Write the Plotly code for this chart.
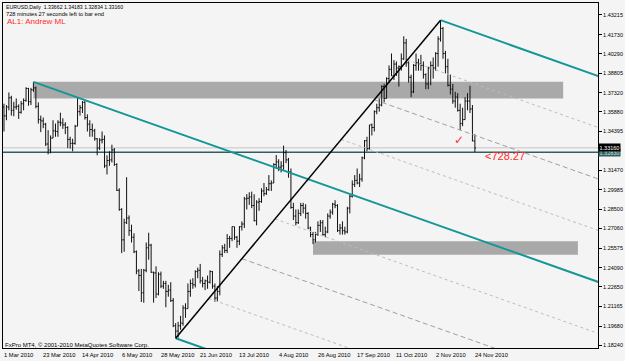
import plotly.graph_objects as go
import pandas as pd

# ---------------- data ----------------
dates = pd.bdate_range("2010-03-01", "2010-11-24")

opens = [1.3625,1.3558,1.3625,1.3695,1.3600,1.3625,1.3630,1.3585,1.3650,1.3675,
         1.3765,1.3665,1.3755,1.3770,1.3630,1.3530,1.3520,1.3495,1.3345,1.3300,
         1.3390,1.3445,1.3440,1.3510,1.3505,1.3490,1.3470,1.3380,1.3350,1.3350,
         1.3480,1.3590,1.3620,1.3660,1.3545,1.3495,1.3455,1.3445,1.3385,1.3315,
         1.3375,1.3380,1.3180,1.3220,1.3225,1.3300,1.3190,1.2995,1.2850,1.2620,
         1.2750,1.2785,1.2690,1.2640,1.2530,1.2385,1.2350,1.2220,1.2390,1.2560,
         1.2580,1.2375,1.2370,1.2210,1.2360,1.2270,1.2290,1.2230,1.2240,1.2160,
         1.1970,1.1930,1.1970,1.1990,1.2105,1.2100,1.2230,1.2290,1.2280,1.2380,
         1.2390,1.2310,1.2290,1.2310,1.2300,1.2380,1.2270,1.2180,1.2230,1.2510,
         1.2560,1.2540,1.2630,1.2630,1.2720,1.2640,1.2610,1.2720,1.2740,1.2930,
         1.2935,1.2945,1.2880,1.2765,1.2905,1.2910,1.2990,1.2970,1.3000,1.3045,
         1.3050,1.3190,1.3210,1.3170,1.3180,1.3280,1.3225,1.3135,1.2865,1.2800,
         1.2750,1.2820,1.2880,1.2860,1.2820,1.2710,1.2660,1.2620,1.2660,1.2730,
         1.2750,1.2660,1.2680,1.2800,1.2830,1.2890,1.2880,1.2690,1.2710,1.2690,
         1.2680,1.2860,1.2950,1.3040,1.3070,1.3050,1.3080,1.3240,1.3370,1.3310,
         1.3490,1.3470,1.3590,1.3620,1.3640,1.3780,1.3690,1.3840,1.3910,1.3860,
         1.3950,1.3920,1.3930,1.3990,1.4110,1.3960,1.3850,1.3740,1.3940,1.3960,
         1.3950,1.3940,1.3870,1.3800,1.3920,1.3940,1.3920,1.4030,1.4140,1.4220,
         1.4030,1.3930,1.3790,1.3760,1.3670,1.3700,1.3600,1.3500,1.3530,1.3670,
         1.3670,1.3610,1.33662]
highs = [1.3650,1.3640,1.3735,1.3710,1.3665,1.3690,1.3645,1.3670,1.3690,1.3775,
         1.3770,1.3770,1.3815,1.3780,1.3660,1.3560,1.3545,1.3505,1.3450,1.3410,
         1.3525,1.3500,1.3525,1.3582,1.3540,1.3510,1.3480,1.3400,1.3385,1.3490,
         1.3692,1.3640,1.3670,1.3670,1.3570,1.3525,1.3500,1.3460,1.3390,1.3390,
         1.3440,1.3410,1.3260,1.3290,1.3340,1.3315,1.3200,1.3010,1.2860,1.2780,
         1.3094,1.2805,1.2735,1.2670,1.2540,1.2400,1.2400,1.2400,1.2600,1.2674,
         1.2590,1.2380,1.2420,1.2375,1.2380,1.2310,1.2310,1.2280,1.2300,1.2180,
         1.1990,1.2000,1.2045,1.2125,1.2140,1.2290,1.2320,1.2330,1.2390,1.2410,
         1.2438,1.2340,1.2320,1.2350,1.2390,1.2385,1.2290,1.2270,1.2540,1.2580,
         1.2590,1.2664,1.2650,1.2721,1.2720,1.2650,1.2725,1.2760,1.2945,1.2966,
         1.2980,1.2985,1.2965,1.2920,1.2935,1.3010,1.3050,1.3020,1.3110,1.3070,
         1.3200,1.3262,1.3230,1.3215,1.3333,1.3300,1.3240,1.3160,1.2900,1.2850,
         1.2850,1.2900,1.2900,1.2890,1.2830,1.2720,1.2680,1.2680,1.2760,1.2770,
         1.2770,1.2720,1.2820,1.2850,1.2900,1.2920,1.2890,1.2740,1.2760,1.2720,
         1.2870,1.2960,1.3070,1.3110,1.3160,1.3120,1.3250,1.3375,1.3400,1.3490,
         1.3500,1.3600,1.3650,1.3690,1.3790,1.3800,1.3850,1.3940,1.4030,1.3980,
         1.3970,1.3940,1.4030,1.4160,1.4140,1.3970,1.3870,1.3950,1.4030,1.3990,
         1.4020,1.3970,1.3880,1.3930,1.3970,1.4000,1.4040,1.4160,1.4282,1.4230,
         1.4050,1.3990,1.3870,1.3800,1.3740,1.3730,1.3650,1.3620,1.3700,1.3730,
         1.3786,1.3640,1.34183]
lows = [1.3440,1.3525,1.3600,1.3560,1.3555,1.3605,1.3535,1.3575,1.3600,1.3665,
        1.3635,1.3640,1.3740,1.3615,1.3500,1.3435,1.3465,1.3330,1.3267,1.3275,
        1.3390,1.3400,1.3400,1.3480,1.3460,1.3420,1.3314,1.3310,1.3290,1.3340,
        1.3480,1.3560,1.3580,1.3530,1.3440,1.3400,1.3400,1.3370,1.3260,1.3300,
        1.3350,1.3165,1.3115,1.3180,1.3205,1.3180,1.2990,1.2840,1.2520,1.2530,
        1.2740,1.2650,1.2600,1.2520,1.2360,1.2233,1.2150,1.2144,1.2375,1.2470,
        1.2370,1.2145,1.2180,1.2200,1.2255,1.2250,1.2110,1.2190,1.2150,1.1960,
        1.1876,1.1880,1.1940,1.1970,1.2030,1.2100,1.2190,1.2250,1.2260,1.2330,
        1.2290,1.2260,1.2240,1.2250,1.2290,1.2250,1.2152,1.2155,1.2200,1.2490,
        1.2520,1.2520,1.2560,1.2610,1.2620,1.2560,1.2580,1.2690,1.2710,1.2850,
        1.2885,1.2860,1.2760,1.2730,1.2840,1.2900,1.2950,1.2960,1.2990,1.2990,
        1.3050,1.3160,1.3140,1.3130,1.3150,1.3200,1.3090,1.2855,1.2770,1.2730,
        1.2740,1.2800,1.2820,1.2780,1.2700,1.2640,1.2588,1.2600,1.2650,1.2680,
        1.2650,1.2640,1.2670,1.2780,1.2810,1.2860,1.2680,1.2660,1.2660,1.2660,
        1.2670,1.2820,1.2940,1.3020,1.3040,1.3020,1.3060,1.3230,1.3290,1.3300,
        1.3410,1.3440,1.3570,1.3590,1.3630,1.3660,1.3690,1.3810,1.3860,1.3830,
        1.3860,1.3780,1.3900,1.3980,1.3930,1.3810,1.3700,1.3730,1.3900,1.3900,
        1.3900,1.3840,1.3760,1.3760,1.3790,1.3840,1.3900,1.3930,1.4120,1.3990,
        1.3880,1.3780,1.3720,1.3650,1.3620,1.3590,1.3450,1.3480,1.3530,1.3600,
        1.3580,1.3365,1.32834]
closes = [1.3558,1.3625,1.3695,1.3600,1.3625,1.3630,1.3585,1.3650,1.3675,1.3765,
          1.3665,1.3755,1.3770,1.3630,1.3530,1.3520,1.3495,1.3345,1.3300,1.3390,
          1.3445,1.3440,1.3510,1.3505,1.3490,1.3470,1.3380,1.3350,1.3350,1.3480,
          1.3590,1.3620,1.3660,1.3545,1.3495,1.3455,1.3445,1.3385,1.3315,1.3375,
          1.3380,1.3180,1.3220,1.3225,1.3300,1.3190,1.2995,1.2850,1.2620,1.2750,
          1.2785,1.2690,1.2640,1.2530,1.2385,1.2350,1.2220,1.2390,1.2560,1.2580,
          1.2375,1.2370,1.2210,1.2360,1.2270,1.2290,1.2230,1.2240,1.2160,1.1970,
          1.1930,1.1970,1.1990,1.2105,1.2100,1.2230,1.2290,1.2280,1.2380,1.2390,
          1.2310,1.2290,1.2310,1.2300,1.2380,1.2270,1.2180,1.2230,1.2510,1.2560,
          1.2540,1.2630,1.2630,1.2720,1.2640,1.2610,1.2720,1.2740,1.2930,1.2935,
          1.2945,1.2880,1.2765,1.2905,1.2910,1.2990,1.2970,1.3000,1.3045,1.3050,
          1.3190,1.3210,1.3170,1.3180,1.3280,1.3225,1.3135,1.2865,1.2800,1.2750,
          1.2820,1.2880,1.2860,1.2820,1.2710,1.2660,1.2620,1.2660,1.2730,1.2750,
          1.2660,1.2680,1.2800,1.2830,1.2890,1.2880,1.2690,1.2710,1.2690,1.2680,
          1.2860,1.2950,1.3040,1.3070,1.3050,1.3080,1.3240,1.3370,1.3310,1.3490,
          1.3470,1.3590,1.3620,1.3640,1.3780,1.3690,1.3840,1.3910,1.3860,1.3950,
          1.3920,1.3930,1.3990,1.4110,1.3960,1.3850,1.3740,1.3940,1.3960,1.3950,
          1.3940,1.3870,1.3800,1.3920,1.3940,1.3920,1.4030,1.4140,1.4220,1.4030,
          1.3930,1.3790,1.3760,1.3670,1.3700,1.3600,1.3500,1.3530,1.3670,1.3670,
          1.3610,1.3370,1.33160]

x_tick_idx = [0, 16, 32, 48, 64, 80, 96, 112, 128, 144, 160, 176, 192]
x_tick_labels = ["1 Mar 2010", "23 Mar 2010", "14 Apr 2010", "6 May 2010", "28 May 2010",
                 "21 Jun 2010", "13 Jul 2010", "4 Aug 2010", "26 Aug 2010", "17 Sep 2010",
                 "11 Oct 2010", "2 Nov 2010", "24 Nov 2010"]
y_tick_vals = [1.43215, 1.41730, 1.40290, 1.38805, 1.37320, 1.35880, 1.34395,
               1.31470, 1.29985, 1.28500, 1.27060, 1.25575, 1.24090, 1.22650,
               1.21165, 1.19680, 1.18240]
y_tick_text = ["%.5f" % v for v in y_tick_vals]

# pitchfork pivots (bar index): A = March high, B = June low, C = November high
pivot_idx = [12, 70, 178]
pivot_price = [highs[12], lows[70], highs[178]]
level_fracs = [0.25, 0.5, 0.75, -0.25, -0.5, -0.75]

# rectangles (support / resistance zones)
rect_x0 = [12, 126]
rect_x1 = [228, 234]
rect_lo = [1.3690, 1.2508]
rect_hi = [1.3816, 1.2609]

h_line_price = 1.3283
bid_price = closes[-1]

header1 = "EURUSD,Daily\u00a0\u00a01.33662 1.34183 1.32834 1.33160"
header2 = "728 minutes 27 seconds left to bar end"
header3 = "AL1: Andrew ML"
timer_text = "<728.27"
copyright_text = "FxPro MT4, \u00a9 2001-2010 MetaQuotes Software Corp."

# ---------------- figure ----------------
idx = list(range(len(closes)))
X_MIN, X_MAX = -0.4, 242.2
Y_MIN, Y_MAX = 1.18019, 1.44120
X_END = 260

FONT = "Liberation Sans"
TEAL = "#159696"

fig = go.Figure()

fig.add_trace(go.Ohlc(
    x=idx, open=opens, high=highs, low=lows, close=closes,
    increasing=dict(line=dict(color="#101010", width=1)),
    decreasing=dict(line=dict(color="#101010", width=1)),
    tickwidth=0.45, hoverinfo="skip", showlegend=False))

ax, bx, cx = pivot_idx
ay, by, cy = pivot_price
mx, my = (bx + cx) / 2.0, (by + cy) / 2.0
slope = (my - ay) / (mx - ax)

def ray(x0, y0):
    return [x0, X_END], [y0, y0 + slope * (X_END - x0)]

# level lines between tines
for f in level_fracs:
    sx = mx + f * (cx - mx)
    sy = my + f * (cy - my)
    xs, ys = ray(sx, sy)
    if abs(f) == 0.5:
        ln = dict(color="#a0a0a0", width=1, dash="5px,3px")
    else:
        ln = dict(color="#bdbdbd", width=1, dash="3px,3px")
    fig.add_trace(go.Scatter(x=xs, y=ys, mode="lines", line=ln,
                             hoverinfo="skip", showlegend=False))

# median line and tines
for (x0, y0) in [(ax, ay), (bx, by), (cx, cy)]:
    xs, ys = ray(x0, y0)
    fig.add_trace(go.Scatter(x=xs, y=ys, mode="lines",
                             line=dict(color=TEAL, width=2),
                             hoverinfo="skip", showlegend=False))

# handle B -> C
fig.add_trace(go.Scatter(x=[bx, cx], y=[by, cy], mode="lines",
                         line=dict(color="#000000", width=1.5),
                         hoverinfo="skip", showlegend=False))

shapes = []
for x0, x1, lo, hi in zip(rect_x0, rect_x1, rect_lo, rect_hi):
    shapes.append(dict(type="rect", xref="x", yref="y", x0=x0, x1=x1, y0=lo, y1=hi,
                       fillcolor="#a9a9a9", line=dict(width=0), layer="below"))
shapes.append(dict(type="line", xref="paper", yref="y", x0=0, x1=1,
                   y0=bid_price, y1=bid_price, line=dict(color="#c4c4c4", width=1),
                   layer="below"))
shapes.append(dict(type="line", xref="paper", yref="y", x0=0, x1=1,
                   y0=h_line_price, y1=h_line_price, line=dict(color="#2f5f5f", width=1.5),
                   layer="below"))

ann = []
for i, t in zip(x_tick_idx, x_tick_labels):
    ann.append(dict(x=i, xref="x", y=0, yref="paper", text=t, showarrow=False,
                    xanchor="left", yanchor="top", xshift=-2, yshift=-2,
                    font=dict(family=FONT, size=5.8, color="#000000")))

ann.append(dict(x=0, xref="paper", y=1, yref="paper", text=header1, showarrow=False,
                xanchor="left", yanchor="top", xshift=1, yshift=1,
                font=dict(family=FONT, size=5.2, color="#000000")))
ann.append(dict(x=0, xref="paper", y=1, yref="paper", text=header2, showarrow=False,
                xanchor="left", yanchor="top", xshift=1, yshift=-6,
                font=dict(family=FONT, size=5.7, color="#000000")))
ann.append(dict(x=0, xref="paper", y=1, yref="paper", text=header3, showarrow=False,
                xanchor="left", yanchor="top", xshift=2, yshift=-12,
                font=dict(family=FONT, size=8, color="#ff2a2a")))
ann.append(dict(x=0, xref="paper", y=0, yref="paper", text=copyright_text, showarrow=False,
                xanchor="left", yanchor="bottom", xshift=0, yshift=-2,
                font=dict(family=FONT, size=6, color="#000000")))

ann.append(dict(x=195.2, xref="x", y=bid_price, yref="y", text=timer_text, showarrow=False,
                xanchor="left", yanchor="top",
                font=dict(family=FONT, size=11, color="#ff2a2a")))
ann.append(dict(x=185.6, xref="x", y=lows[186], yref="y", text="\u2713", showarrow=False,
                xanchor="center", yanchor="top", yshift=-1,
                font=dict(family="DejaVu Sans", size=12, color="#ff2a2a")))

ann.append(dict(x=1, xref="paper", y=h_line_price, yref="y", text="%.5f" % h_line_price,
                showarrow=False, xanchor="left", yanchor="middle", bgcolor="#2f5f5f",
                borderpad=0.5, font=dict(family=FONT, size=5.5, color="#d0e0e0")))
ann.append(dict(x=1, xref="paper", y=bid_price, yref="y", text="%.5f" % bid_price,
                showarrow=False, xanchor="left", yanchor="middle", bgcolor="#000000",
                borderpad=0.5, font=dict(family=FONT, size=5.5, color="#ffffff")))

fig.update_layout(
    width=625, height=361,
    margin=dict(l=2, r=24, t=2, b=13),
    paper_bgcolor="#f4f4f4", plot_bgcolor="#f4f4f4",
    showlegend=False,
    shapes=shapes, annotations=ann,
    xaxis=dict(range=[X_MIN, X_MAX], showgrid=False, zeroline=False,
               showticklabels=False, ticks="", rangeslider=dict(visible=False),
               showline=True, linecolor="#000000", linewidth=1, mirror=True),
    yaxis=dict(range=[Y_MIN, Y_MAX], side="right", showgrid=False, zeroline=False,
               tickmode="array", tickvals=y_tick_vals, ticktext=y_tick_text,
               ticks="outside", ticklen=3, tickcolor="#000000",
               tickfont=dict(family=FONT, size=5.5, color="#000000"),
               showline=True, linecolor="#000000", linewidth=1, mirror=True),
)

fig.write_html("out.html")
